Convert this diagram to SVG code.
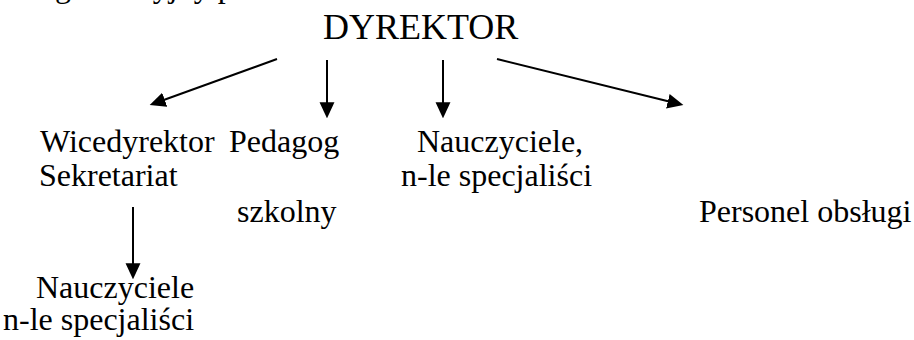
<svg xmlns="http://www.w3.org/2000/svg" width="914" height="340" viewBox="0 0 914 340">
<style>
text{fill:#000;font-size:32px}
.title{font-size:36px}
.conn line{stroke:#000;stroke-width:2;fill:none}
</style>
<defs>
<marker id="ah" markerUnits="userSpaceOnUse" markerWidth="16" markerHeight="16" viewBox="0 0 15 14" refX="10" refY="7" orient="auto">
<path d="M0,0L15,7L0,14z" fill="#000"/>
</marker>
</defs>
<rect width="914" height="340" fill="#fff"/>
<g font-family="'Liberation Serif', 'Times New Roman', 'DejaVu Serif', serif">
<text x="29" y="-3">organizacyjny placówki</text>
<g id="dyrektor"><text class="title" x="323" y="39">DYREKTOR</text></g>
<g id="wicedyrektor"><text x="40" y="152">Wicedyrektor</text><text x="39" y="186">Sekretariat</text></g>
<g id="pedagog"><text x="229" y="152">Pedagog</text><text x="237" y="222">szkolny</text></g>
<g id="nauczyciele"><text x="417" y="152">Nauczyciele,</text><text x="401" y="186">n-le specjaliści</text></g>
<g id="personel"><text x="699" y="222">Personel obsługi</text></g>
<g id="nauczyciele2"><text x="36" y="298">Nauczyciele</text><text x="3" y="330">n-le specjaliści</text></g>
</g>
<g id="connectors" class="conn">
<line x1="277" y1="59" x2="154.7" y2="103.3" marker-end="url(#ah)"/>
<line x1="327" y1="60" x2="327" y2="113" marker-end="url(#ah)"/>
<line x1="443" y1="60" x2="443" y2="113" marker-end="url(#ah)"/>
<line x1="497" y1="59" x2="678.2" y2="103.8" marker-end="url(#ah)"/>
<line x1="133" y1="207" x2="133" y2="274" marker-end="url(#ah)"/>
</g>
</svg>
